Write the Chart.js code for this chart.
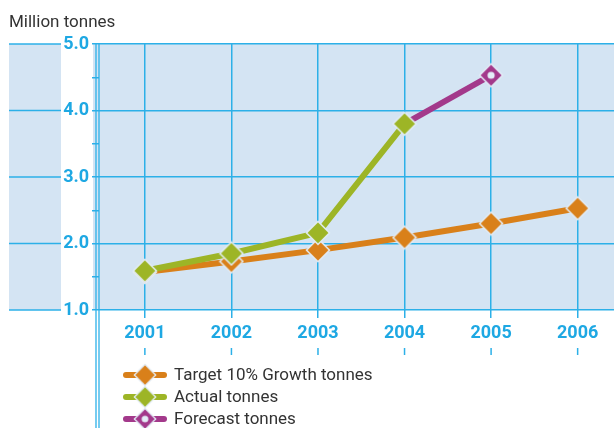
<!DOCTYPE html>
<html>
<head>
<meta charset="utf-8">
<script src="https://cdn.jsdelivr.net/npm/chart.js@4.4.1/dist/chart.umd.min.js"></script>
<style>
  html, body { margin: 0; padding: 0; background: #fff; overflow: hidden; }
  #wrap { width: 614px; height: 428px; }
</style>
</head>
<body>
<div id="wrap"><canvas id="tonnesChart" width="614" height="428"></canvas></div>
<script>
// Data
const years = [2001, 2002, 2003, 2004, 2005, 2006]
const targetTonnes = [1.57, 1.73, 1.9, 2.09, 2.3, 2.53]
const actualTonnes = [1.59, 1.85, 2.16, 3.8, null, null]
const forecastTonnes = [null, null, null, 3.8, 4.53, null]
const seriesNames = ['Target 10% Growth tonnes', 'Actual tonnes', 'Forecast tonnes']
const unitLabel = 'Million tonnes'

const BLUE_BG = '#d4e4f3'
const GRID = '#2cb0e8'
const TICK_TEXT = '#1ea8e3'
const OUTLINE = '#e4eef8'
const ORANGE = '#d9801a'
const GREEN = '#9db526'
const MAGENTA = '#a3398b'
const LABEL_FONT = "'Roboto', sans-serif"
const TEXT_FONT = "17px 'Roboto', sans-serif"

// diamond marker drawn once, used as pointStyle
function diamond(fill, dot) {
  const c = document.createElement('canvas')
  c.width = 26
  c.height = 26
  const g = c.getContext('2d')
  g.beginPath()
  g.moveTo(13, 1.5)
  g.lineTo(24.5, 13)
  g.lineTo(13, 24.5)
  g.lineTo(1.5, 13)
  g.closePath()
  g.fillStyle = fill
  g.fill()
  g.lineWidth = 1.5
  g.strokeStyle = OUTLINE
  g.stroke()
  if (dot) {
    g.beginPath()
    g.arc(13, 13, 3.6, 0, Math.PI * 2)
    g.fillStyle = dot
    g.fill()
  }
  return c
}

const markers = [diamond(ORANGE), diamond(GREEN), diamond(MAGENTA, OUTLINE)]
const colors = [ORANGE, GREEN, MAGENTA]

const toPoints = (vals) => years.map((yr, i) => ({ x: yr, y: vals[i] }))

const backdrop = {
  id: 'backdrop',
  beforeDraw(chart) {
    const { ctx, chartArea: a, scales } = chart
    ctx.save()
    ctx.fillStyle = BLUE_BG
    ctx.fillRect(9, a.top, 52, a.bottom - a.top)
    ctx.fillRect(93, a.top, a.right - 93, a.bottom - a.top)
    ctx.strokeStyle = GRID
    ctx.lineWidth = 1.5
    for (let v = 1; v <= 5; v++) {
      const y = scales.y.getPixelForValue(v)
      ctx.beginPath()
      ctx.moveTo(9, y)
      ctx.lineTo(61, y)
      ctx.stroke()
    }
    ctx.restore()
  },
  afterDraw(chart) {
    const { ctx, chartArea: a, scales } = chart
    ctx.save()
    // double rule at the left of the plot
    ctx.strokeStyle = GRID
    ctx.lineWidth = 1.3
    ;[96, 99].forEach((x) => {
      ctx.beginPath()
      ctx.moveTo(x, a.top)
      ctx.lineTo(x, 428)
      ctx.stroke()
    })
    // second set of ticks under the year labels
    ctx.lineWidth = 1.5
    years.forEach((yr) => {
      const x = scales.x.getPixelForValue(yr)
      ctx.beginPath()
      ctx.moveTo(x, 348)
      ctx.lineTo(x, 355)
      ctx.stroke()
    })
    // unit label
    ctx.fillStyle = '#333333'
    ctx.font = TEXT_FONT
    ctx.textBaseline = 'alphabetic'
    ctx.fillText(unitLabel, 9, 27)
    // legend
    const rows = [375, 397, 419]
    rows.forEach((y, i) => {
      ctx.strokeStyle = colors[i]
      ctx.lineWidth = 6
      ctx.lineCap = 'round'
      ctx.beginPath()
      ctx.moveTo(126, y)
      ctx.lineTo(164, y)
      ctx.stroke()
      ctx.drawImage(markers[i], 145 - 12, y - 12, 24, 24)
      ctx.fillStyle = '#333333'
      ctx.font = TEXT_FONT
      ctx.textBaseline = 'middle'
      ctx.fillText(seriesNames[i], 174, y + 1)
    })
    ctx.restore()
  },
}

const lineDefaults = {
  borderWidth: 6,
  tension: 0,
  spanGaps: false,
  pointRadius: 10,
  pointHoverRadius: 10,
}

const ctx = document.getElementById('tonnesChart').getContext('2d')
const tonnesChart = new Chart(ctx, {
  type: 'line',
  data: {
    datasets: [
      {
        ...lineDefaults,
        label: seriesNames[0],
        data: toPoints(targetTonnes),
        borderColor: ORANGE,
        pointStyle: markers[0],
        order: 2,
      },
      {
        ...lineDefaults,
        label: seriesNames[1],
        data: toPoints(actualTonnes),
        borderColor: GREEN,
        pointStyle: markers[1],
        order: 0,
      },
      {
        ...lineDefaults,
        label: seriesNames[2],
        data: toPoints(forecastTonnes),
        borderColor: MAGENTA,
        pointStyle: markers[2],
        pointRadius: (c) => (c.dataIndex === 4 ? 10 : 0),
        order: 1,
      },
    ],
  },
  options: {
    responsive: false,
    animation: false,
    layout: { autoPadding: false, padding: { top: 44, left: 0, right: 0, bottom: 0 } },
    plugins: { legend: { display: false }, tooltip: { enabled: false } },
    scales: {
      x: {
        type: 'linear',
        min: 2000.47,
        max: 2006.42,
        afterBuildTicks: (s) => {
          s.ticks = years.map((v) => ({ value: v }))
        },
        afterFit: (s) => {
          s.height = 118
          s.paddingLeft = 0
          s.paddingRight = 0
        },
        border: { display: false },
        grid: { color: GRID, lineWidth: 1.5, tickLength: 8 },
        ticks: {
          padding: 5,
          color: TICK_TEXT,
          font: { family: LABEL_FONT, size: 18, weight: 'bold' },
          callback: (v) => String(v),
        },
      },
      y: {
        min: 1,
        max: 5,
        afterFit: (s) => {
          s.width = 99
        },
        border: { display: false },
        grid: {
          color: (c) => (Number.isInteger(c.tick.value) ? GRID : 'rgba(0,0,0,0)'),
          tickColor: GRID,
          lineWidth: 1.5,
          tickLength: 7,
        },
        ticks: {
          stepSize: 0.5,
          padding: 3,
          color: TICK_TEXT,
          font: { family: LABEL_FONT, size: 18, weight: 'bold' },
          callback: (v) => (Number.isInteger(v) ? v.toFixed(1) : ''),
        },
      },
    },
  },
  plugins: [backdrop],
})
</script>
</body>
</html>
